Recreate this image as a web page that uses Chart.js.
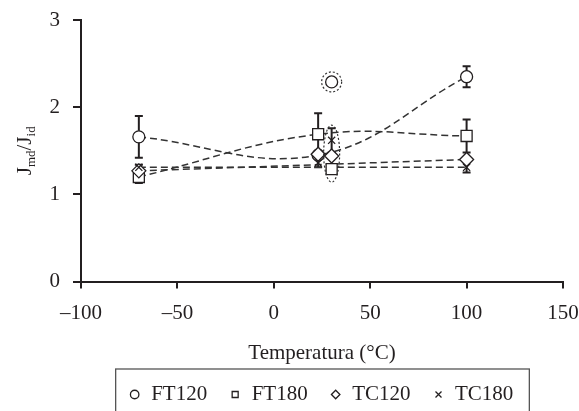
<!DOCTYPE html>
<html lang="pt">
<head>
  <meta charset="UTF-8">
  <title>Jmd/Jid vs temperatura</title>
  <script src="https://cdn.jsdelivr.net/npm/chart.js@4.4.1/dist/chart.umd.min.js"></script>
  <style>
    html, body { margin: 0; padding: 0; background: #fff; }
    #wrap { position: relative; width: 579px; height: 411px; }
  </style>
</head>
<body>
  <div id="wrap"><canvas id="grafico"></canvas></div>

  <script>
    // temperaturas (°C); o ponto de 30 °C fica fora das linhas de tendencia (circulado)
    const tempC = [-70, 23, 30, 100];
    const outIdx = 2;
    const trendFT = [0, 1, 3];
    const trendTC = [0, 3];

    const seriesNames = ['FT120', 'FT180', 'TC120', 'TC180'];
    const ft120 = [1.66, 1.45, 2.29, 2.35];
    const ft120Err = [0.24, 0, 0, 0.12];
    const ft180 = [1.20, 1.69, 1.29, 1.67];
    const ft180Err = [0.07, 0.24, 0, 0.19];
    const tc120 = [1.27, 1.46, 1.44, 1.40];
    const tc120Err = [0, 0.04, 0, 0.03];
    const tc180 = [1.31, 1.36, 1.62, 1.31];
    const tc180Err = [0.03, 0.05, 0.14, 0.06];

    const xTicks = [-100, -50, 0, 50, 100, 150];
    const yTicks = [0, 1, 2, 3];

    const values = [ft120, ft180, tc120, tc180];
    const errors = [ft120Err, ft180Err, tc120Err, tc180Err];
    const trends = [trendFT, trendFT, trendTC, trendTC];
    const markers = ['circle', 'rect', 'rectRot', 'crossRot'];
    const markerSize = [6, 7.8, 7, 5];

    const ink = '#231f20';
    const serif = "'Liberation Serif', 'DejaVu Serif', serif";
    const fs = 21;

    var datasets = [];
    values.forEach(function(v, i) {
      datasets.push({
        label: seriesNames[i],
        data: tempC.map(function(t, j) { return { x: t, y: v[j] }; }),
        pointStyle: markers[i],
        pointRadius: markerSize[i],
        pointBackgroundColor: '#fff',
        backgroundColor: '#fff',
        borderColor: ink,
        pointBorderColor: ink,
        borderWidth: 1.3,
        showLine: false,
        order: 4 - i   // TC por cima de FT
      });
    });
    values.forEach(function(v, i) {
      datasets.push({
        label: seriesNames[i] + ' tendência',
        data: trends[i].map(function(j) { return { x: tempC[j], y: v[j] }; }),
        showLine: true,
        pointRadius: 0,
        borderColor: '#333',
        borderWidth: 1.5,
        borderDash: [7, 4],
        tension: trends[i].length > 2 ? 0.4 : 0,
        fill: false,
        order: 10
      });
    });

    // barras de erro, elipse pontilhada, titulo do eixo y com subscritos e moldura da legenda
    const extras = {
      id: 'extras',
      afterLayout: function(chart) {
        // a legenda do original fica um pouco a direita do centro
        if (chart.legend) { chart.legend.left += 8; chart.legend.right += 8; }
      },
      beforeDatasetsDraw: function(chart) {
        const ctx = chart.ctx, xs = chart.scales.x, ys = chart.scales.y;
        ctx.save();
        ctx.strokeStyle = ink;
        ctx.lineWidth = 2;
        values.forEach(function(v, i) {
          errors[i].forEach(function(e, j) {
            if (!e) return;
            const px = xs.getPixelForValue(tempC[j]);
            const top = ys.getPixelForValue(v[j] + e);
            const bot = ys.getPixelForValue(v[j] - e);
            ctx.beginPath();
            ctx.moveTo(px, top); ctx.lineTo(px, bot);
            ctx.moveTo(px - 4, top); ctx.lineTo(px + 4, top);
            ctx.moveTo(px - 4, bot); ctx.lineTo(px + 4, bot);
            ctx.stroke();
          });
        });
        ctx.restore();
      },
      afterDatasetsDraw: function(chart) {
        const ctx = chart.ctx, xs = chart.scales.x, ys = chart.scales.y;
        const px = xs.getPixelForValue(tempC[outIdx]);
        ctx.save();
        ctx.strokeStyle = '#333';
        ctx.lineWidth = 1.2;
        ctx.setLineDash([2, 2]);
        ctx.beginPath();
        ctx.arc(px, ys.getPixelForValue(ft120[outIdx]), 10, 0, Math.PI * 2);
        ctx.stroke();
        var hi = -Infinity, lo = Infinity;
        [1, 2, 3].forEach(function(k) {
          hi = Math.max(hi, values[k][outIdx] + errors[k][outIdx]);
          lo = Math.min(lo, values[k][outIdx]);
        });
        const top = ys.getPixelForValue(hi) - 3;
        const bot = ys.getPixelForValue(lo) + 13;
        ctx.beginPath();
        ctx.ellipse(px, (top + bot) / 2, 8, (bot - top) / 2, 0, 0, Math.PI * 2);
        ctx.stroke();
        ctx.restore();
      },
      afterDraw: function(chart) {
        const ctx = chart.ctx, area = chart.chartArea;
        const parts = [['J', fs, 7], ['md', 13, 11], ['/J', fs, 7], ['id', 13, 11]];
        ctx.save();
        ctx.fillStyle = ink;
        ctx.textBaseline = 'alphabetic';
        ctx.textAlign = 'left';
        var total = 0;
        parts.forEach(function(p) { ctx.font = p[1] + 'px ' + serif; total += ctx.measureText(p[0]).width; });
        ctx.translate(24, (area.top + area.bottom) / 2);
        ctx.rotate(-Math.PI / 2);
        var x = -total / 2;
        parts.forEach(function(p) {
          ctx.font = p[1] + 'px ' + serif;
          ctx.fillText(p[0], x, p[2]);
          x += ctx.measureText(p[0]).width;
        });
        ctx.restore();

        const boxes = chart.legend.legendHitBoxes;
        if (!boxes || !boxes.length) return;
        var l = Infinity, r = -Infinity, t = Infinity, b = -Infinity;
        boxes.forEach(function(h) {
          l = Math.min(l, h.left); r = Math.max(r, h.left + h.width);
          t = Math.min(t, h.top); b = Math.max(b, h.top + h.height);
        });
        ctx.save();
        ctx.strokeStyle = '#555';
        ctx.lineWidth = 1.3;
        ctx.strokeRect(l - 13, t - 15, r - l + 29, b - t + 32);
        ctx.restore();
      }
    };

    var ctx = document.getElementById('grafico').getContext('2d');
    var grafico = new Chart(ctx, {
      type: 'scatter',
      data: { datasets: datasets },
      plugins: [extras],
      options: {
        responsive: true,
        maintainAspectRatio: false,
        animation: false,
        layout: { padding: { left: 47, top: 20, right: 0, bottom: -4 } },
        plugins: {
          tooltip: { enabled: false },
          legend: {
            position: 'bottom',
            labels: {
              filter: function(item) { return item.datasetIndex < 4; },
              sort: function(a, b) { return a.datasetIndex - b.datasetIndex; },
              usePointStyle: true,
              boxWidth: 12,
              boxHeight: 6,
              padding: 22,
              color: ink,
              font: { family: serif, size: fs }
            }
          }
        },
        scales: {
          x: {
            type: 'linear',
            min: xTicks[0],
            max: xTicks[xTicks.length - 1],
            afterBuildTicks: function(s) { s.ticks = xTicks.map(function(v) { return { value: v }; }); },
            afterFit: function(s) { s.paddingLeft = 0; s.paddingRight = 16; },
            ticks: {
              color: ink,
              padding: 12,
              font: { family: serif, size: fs },
              callback: function(v) { return v < 0 ? '\u2013' + Math.abs(v) : String(v); }
            },
            grid: { drawOnChartArea: false, drawTicks: true, tickLength: 7, color: ink, lineWidth: 2 },
            border: { display: true, color: ink, width: 2 },
            title: {
              display: true,
              text: 'Temperatura (°C)',
              color: ink,
              font: { family: serif, size: fs },
              padding: { top: 3, bottom: -4 }
            }
          },
          y: {
            min: yTicks[0],
            max: yTicks[yTicks.length - 1],
            afterBuildTicks: function(s) { s.ticks = yTicks.map(function(v) { return { value: v }; }); },
            afterFit: function(s) { s.width = 34; s.paddingTop = 0; s.paddingBottom = 0; },
            ticks: {
              color: ink,
              padding: 13,
              font: { family: serif, size: fs }
            },
            grid: { drawOnChartArea: false, drawTicks: true, tickLength: 8, color: ink, lineWidth: 2 },
            border: { display: true, color: ink, width: 2 }
          }
        }
      }
    });
  </script>
</body>
</html>
